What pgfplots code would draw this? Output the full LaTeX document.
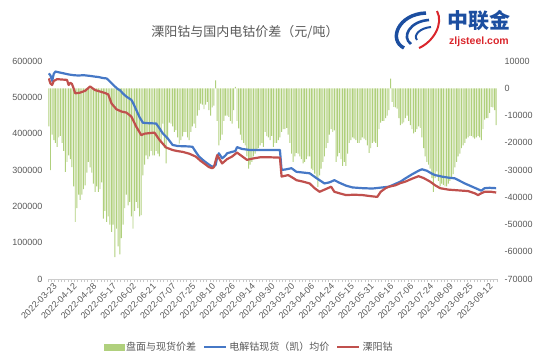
\documentclass[border=0pt]{standalone}
\usepackage{pgfplots}
\pgfplotsset{compat=1.18}
\usepackage{pgfplotstable}
\usepackage{fontspec}
\setmainfont{Liberation Sans}
\newfontfamily\cjk{Noto Sans CJK SC}
\definecolor{labelgray}{RGB}{89,89,89}
\definecolor{barGreen}{RGB}{176,208,125}
\definecolor{lineBlue}{RGB}{70,120,198}
\definecolor{lineRed}{RGB}{192,80,77}
\definecolor{logoBlue}{RGB}{28,78,160}
\definecolor{logoRed}{RGB}{218,38,44}
\pgfplotstableread[row sep=\\]{
v\\
-14000\\ -30000\\ -17000\\ -19000\\ -20000\\ -21500\\ -18000\\ -17500\\ -20000\\ -23000\\
-30700\\ -27000\\ -24600\\ -26000\\ -28900\\ -36000\\ -49000\\ -44000\\ -39000\\ -41000\\
-39000\\ -37000\\ -35600\\ -31000\\ -27000\\ -29000\\ -31000\\ -35000\\ -38000\\ -36000\\
-38000\\ -37000\\ -34500\\ -47800\\ -45000\\ -49000\\ -47000\\ -50000\\ -52700\\ -50000\\
-62000\\ -51500\\ -58000\\ -61000\\ -55000\\ -50000\\ -44000\\ -39000\\ -43000\\ -41700\\
-47000\\ -51500\\ -45000\\ -41700\\ -44000\\ -47000\\ -46600\\ -32000\\ -28000\\ -24600\\
-26000\\ -25000\\ -23000\\ -24600\\ -24600\\ -23000\\ -24000\\ -25000\\ -20000\\ -13000\\
-22000\\ -27600\\ -18000\\ -12600\\ -13000\\ -14000\\ -16000\\ -15400\\ -18000\\ -20300\\
-19000\\ -17700\\ -16000\\ -16000\\ -18000\\ -19000\\ -16000\\ -14000\\ -13000\\ -14500\\
-10000\\ -8000\\ -5600\\ -6000\\ -7700\\ -6000\\ -5000\\ -8000\\ -10000\\ -7000\\
-6400\\ 2900\\ -12000\\ -21000\\ -19000\\ -17000\\ -12000\\ -10000\\ -10000\\ -10500\\
-12000\\ -13000\\ -8000\\ 500\\ -12000\\ -14700\\ -17000\\ -19000\\ -20000\\ -21000\\
-25000\\ -29500\\ -28000\\ -27000\\ -25000\\ -24000\\ -23000\\ -22000\\ -21000\\ -20000\\
-21500\\ -16000\\ -17600\\ -18000\\ -19000\\ -17500\\ -21500\\ -20000\\ -20000\\ -19000\\
-18000\\ -16000\\ -15000\\ -15000\\ -14500\\ -17000\\ -20000\\ -24000\\ -27000\\ -25000\\
-23700\\ -24000\\ -25000\\ -26000\\ -27600\\ -27000\\ -26000\\ -25000\\ -25000\\ -29500\\
-30000\\ -31300\\ -33000\\ -36200\\ -32000\\ -29500\\ -27000\\ -25000\\ -22000\\ -20000\\
-17000\\ -15000\\ -16000\\ -15500\\ -27000\\ -25000\\ -23700\\ -26000\\ -28500\\ -27000\\
-28500\\ -24000\\ -20000\\ -19000\\ -18000\\ -18500\\ -19000\\ -20000\\ -20000\\ -19000\\
-18000\\ -18500\\ -19000\\ -21000\\ -23700\\ -22000\\ -20000\\ -19600\\ -20000\\ -21500\\
-15000\\ -12600\\ -12000\\ -12000\\ -11000\\ -10000\\ -8000\\ 3500\\ -5000\\ -6800\\
-7000\\ -7500\\ -11000\\ -13500\\ -13000\\ -12500\\ -11000\\ -10000\\ -12000\\ -13500\\
-15000\\ -16600\\ -16000\\ -15000\\ -14000\\ -14500\\ -18000\\ -22000\\ -25000\\ -27000\\
-28000\\ -29500\\ -33000\\ -38000\\ -33000\\ -30500\\ -34000\\ -36000\\ -35000\\ -35500\\
-36000\\ -36000\\ -35000\\ -34000\\ -33000\\ -31500\\ -29000\\ -27000\\ -25000\\ -24000\\
-22000\\ -21000\\ -20000\\ -18500\\ -18000\\ -17500\\ -17500\\ -18000\\ -18500\\ -18000\\
-17500\\ -18000\\ -19000\\ -15000\\ -11500\\ -11000\\ -11000\\ -9000\\ -6800\\ -7000\\
-8000\\ -13500\\
}\bardata
\begin{document}
\begin{tikzpicture}[x=1pt,y=1pt]
% bars on right axis
\begin{axis}[at={(48pt,81pt)},anchor=south west,scale only axis,width=449pt,height=218pt,
  xmin=-0.5,xmax=271.5,ymin=-70000,ymax=10000,
  axis x line=none, axis y line*=right, y axis line style={draw=none},
  ytick={-70000,-60000,...,10000}, major tick length=0pt, scaled y ticks=false,
  /pgf/number format/assume math mode=true,
  yticklabel style={font=\fontsize{9}{9}\selectfont,text=labelgray,/pgf/number format/fixed,/pgf/number format/1000 sep={},anchor=west,xshift=4pt},
  ybar, bar width=0.95pt]
\addplot[fill=barGreen,draw=none] table[x expr=\coordindex,y=v]{\bardata};
\end{axis}
% lines on left axis
\begin{axis}[at={(48pt,81pt)},anchor=south west,scale only axis,width=449pt,height=218pt,
  xmin=-0.5,xmax=271.5,ymin=0,ymax=600000,
  axis x line*=bottom, axis y line*=left, y axis line style={draw=none},
  x axis line style={draw=black!20,line width=0.6pt},
  ytick={0,100000,...,600000}, scaled y ticks=false,
  xtick={0,12,...,264},
  xticklabels={2022-03-23,2022-04-12,2022-04-28,2022-05-17,2022-06-02,2022-06-21,2022-07-07,2022-07-25,2022-08-10,2022-08-26,2022-09-14,2022-09-30,2023-03-20,2023-04-06,2023-04-24,2023-05-15,2023-05-31,2023-06-16,2023-07-06,2023-07-24,2023-08-09,2023-08-25,2023-09-12},
  minor xtick={-0.5,1.5,...,271.5},
  major tick length=0pt, minor tick length=3pt, tick align=outside,
  minor tick style={draw=black!22,line width=0.5pt},
  /pgf/number format/assume math mode=true,
  yticklabel style={font=\fontsize{9}{9}\selectfont,text=labelgray,/pgf/number format/fixed,/pgf/number format/1000 sep={},anchor=east,xshift=-2pt},
  xticklabel style={font=\fontsize{9}{9}\selectfont,text=labelgray,rotate=45,anchor=north east,xshift=4pt,yshift=-2pt},
  legend style={at={(0.448,-0.312)},anchor=center,draw=none,fill=none,font=\cjk\fontsize{10}{10}\selectfont,text=labelgray,legend columns=3,/tikz/every even column/.append style={column sep=5pt}},
  legend cell align=left]
\addlegendimage{legend image code/.code={\fill[barGreen] (0pt,-3pt) rectangle (20pt,3pt);}}
\addlegendentry{盘面与现货价差}
\addplot[lineBlue,line width=2.2pt,line join=round,legend image code/.code={\draw[lineBlue,line width=2.2pt] (0pt,0pt) -- (22pt,0pt);}] coordinates {
(0,566000)(1,560000)(2,545000)(3,565000)(4,571000)(6,569000)(8,567000)(10,565000)(12,563000)(15,561000)(18,560000)(21,561000)(25,559000)(28,557000)(30,556000)(33,553000)(35,552000)(36,548000)(38,539000)(40,530000)(42,522000)(43,520000)(45,510000)(47,502000)(50,493000)(51,485000)(53,465000)(55,445000)(57,430000)(60,429000)(65,428000)(67,415000)(69,401000)(72,387000)(75,369000)(78,366000)(84,365000)(87,364000)(89,350000)(91,337000)(94,325000)(97,315000)(99,309000)(101,313000)(102,335000)(103,346000)(105,332000)(107,340000)(108,346000)(111,350000)(113,352000)(114,363000)(117,358000)(122,355000)(130,355000)(135,355000)(140,355000)(141,300000)(144,302000)(147,305000)(150,295000)(154,293000)(158,291000)(162,278000)(167,263000)(170,266000)(173,272000)(176,265000)(180,257000)(184,252000)(190,250000)(196,249000)(200,251000)(206,254000)(210,262000)(213,268000)(216,277000)(220,288000)(224,298000)(226,302000)(229,298000)(232,290000)(234,286000)(238,282000)(242,279000)(246,277000)(249,270000)(252,263000)(256,255000)(260,247000)(262,243000)(264,250000)(267,251000)(271,250000)};
\addlegendentry{电解钴现货（凯）均价}
\addplot[lineRed,line width=2.2pt,line join=round,legend image code/.code={\draw[lineRed,line width=2.2pt] (0pt,0pt) -- (22pt,0pt);}] coordinates {
(0,552000)(1,538000)(2,534000)(3,545000)(5,550000)(8,549000)(11,548000)(12,534000)(13,540000)(14,537000)(15,525000)(16,511000)(19,513000)(22,518000)(25,530000)(28,520000)(31,516000)(34,512000)(36,508000)(38,483000)(41,467000)(44,461000)(47,458000)(50,447000)(53,419000)(56,396000)(58,400000)(62,402000)(64,403000)(67,383000)(71,362000)(75,355000)(78,352000)(81,350000)(85,345000)(89,337000)(92,325000)(95,315000)(97,308000)(99,305000)(100,308000)(102,341000)(105,318000)(108,330000)(111,337000)(114,348000)(117,338000)(120,328000)(124,332000)(128,335000)(134,335000)(140,334000)(141,282000)(143,284000)(145,286000)(148,278000)(150,272000)(154,268000)(158,263000)(161,250000)(164,240000)(168,248000)(171,254000)(173,240000)(176,236000)(180,231000)(185,232000)(190,231000)(195,228000)(199,226000)(201,240000)(204,250000)(206,254000)(210,258000)(213,264000)(216,268000)(220,276000)(224,283000)(227,278000)(231,268000)(234,258000)(237,250000)(242,246000)(248,244000)(254,242000)(258,236000)(260,231000)(262,236000)(264,240000)(268,240000)(271,238000)};
\addlegendentry{溧阳钴}
\end{axis}
% title
\node[text=labelgray,font=\cjk\fontsize{13}{13}\selectfont] at (245pt,328pt) {溧阳钴与国内电钴价差（元/吨）};
% logo
\draw[logoBlue,line width=3.5] (426,347) .. controls (398,346) and (388,320) .. (404,312);
\draw[logoBlue,line width=2.6] (429,340) .. controls (410,339) and (401,323) .. (411,316);
\draw[logoBlue,line width=2] (431,333) .. controls (420,332) and (413,325) .. (417,320);
\draw[logoRed,line width=2] (437,349) .. controls (444,336) and (433,318) .. (419,312);
\node[text=logoBlue,font=\cjk\bfseries\fontsize{21}{21}\selectfont] at (479pt,339pt) {中联金};
\node[text=logoRed,font=\bfseries\fontsize{10.5}{10.5}\selectfont] at (479pt,318pt) {zljsteel.com};
\pgfresetboundingbox
\useasboundingbox (0,0) rectangle (548pt,360pt);
\end{tikzpicture}
\end{document}
